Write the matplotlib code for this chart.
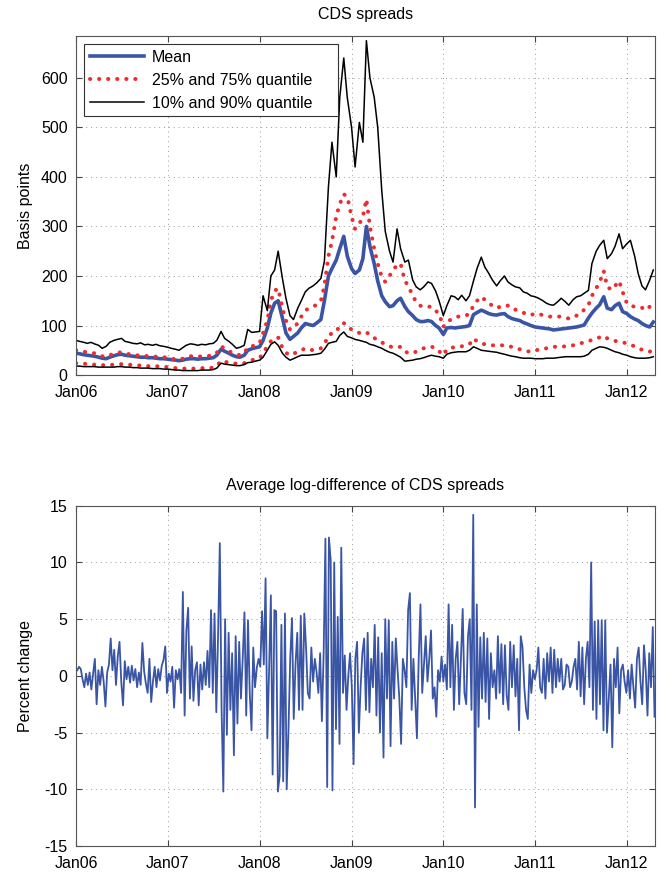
import numpy as np
import matplotlib
matplotlib.use("Agg")
import matplotlib.pyplot as plt
import matplotlib.dates as mdates
import pandas as pd

plt.rcParams['font.family'] = ['Liberation Sans', 'DejaVu Sans']
plt.rcParams['font.size'] = 11.5
plt.rcParams['axes.unicode_minus'] = False

# CDS spread quantiles, read twice a month (1st and 15th), basis points
p90 = ([70, 68, 66, 64, 66, 63, 60, 54, 58, 66, 70, 72, 74, 68, 66, 64, 63, 65, 61, 62, 60, 62, 59, 58] +
       [56, 54, 52, 50, 55, 60, 63, 62, 60, 62, 61, 63, 64, 70, 88, 74, 68, 62, 54, 56, 60, 92, 86, 87] +
       [88, 160, 130, 200, 212, 250, 195, 155, 120, 112, 135, 150, 168, 175, 180, 186, 195, 230, 380, 470, 400, 560, 640, 560] +
       [500, 420, 510, 470, 675, 600, 561, 500, 373, 290, 250, 228, 295, 255, 228, 232, 192, 178, 172, 178, 188, 185, 170, 150] +
       [120, 140, 160, 158, 152, 161, 150, 160, 190, 215, 238, 218, 205, 192, 180, 190, 200, 188, 182, 178, 176, 168, 165, 160] +
       [158, 155, 150, 145, 142, 141, 148, 155, 148, 141, 152, 158, 160, 165, 171, 225, 250, 262, 272, 235, 245, 260, 285, 255] +
       [265, 272, 240, 205, 180, 172, 192, 212])
p75 = ([50, 49, 47, 46, 45, 44, 42, 38, 37, 40, 43, 45, 46, 44, 42, 41, 40, 39, 39, 38, 38, 37, 36, 36] +
       [35, 33, 32, 31, 33, 36, 38, 38, 37, 38, 38, 39, 40, 45, 58, 54, 48, 45, 42, 40, 44, 56, 58, 60] +
       [64, 85, 110, 150, 170, 175, 135, 110, 92, 95, 105, 118, 130, 135, 138, 142, 150, 180, 240, 270, 320, 345, 365, 360] +
       [320, 295, 305, 320, 355, 300, 255, 225, 198, 188, 200, 212, 222, 225, 190, 180, 160, 148, 140, 138, 138, 138, 130, 124] +
       [97, 108, 112, 116, 118, 118, 120, 124, 140, 150, 158, 152, 145, 140, 135, 138, 141, 140, 138, 132, 128, 126, 122, 121] +
       [124, 123, 121, 120, 118, 118, 118, 118, 116, 114, 116, 120, 124, 132, 141, 160, 175, 188, 210, 178, 172, 180, 190, 168] +
       [145, 140, 138, 138, 136, 131, 138, 150])
mean = ([44, 43, 41, 40, 39, 38, 36, 34, 33, 36, 39, 41, 42, 40, 39, 38, 37, 36, 36, 35, 35, 34, 33, 33] +
        [32, 31, 30, 29, 30, 32, 33, 33, 32, 33, 33, 34, 35, 40, 52, 48, 44, 40, 37, 36, 40, 50, 53, 55] +
        [57, 70, 95, 125, 145, 150, 115, 85, 72, 78, 85, 95, 104, 102, 100, 105, 112, 150, 200, 215, 232, 255, 280, 240] +
        [215, 205, 212, 235, 300, 260, 225, 190, 160, 148, 138, 140, 150, 155, 138, 128, 120, 112, 108, 108, 110, 108, 100, 95] +
        [82, 95, 96, 95, 96, 97, 98, 100, 122, 126, 131, 128, 124, 122, 121, 123, 124, 118, 114, 112, 110, 106, 103, 100] +
        [97, 96, 95, 94, 93, 91, 92, 93, 94, 95, 96, 97, 99, 101, 115, 125, 135, 142, 158, 135, 132, 140, 145, 128] +
        [124, 118, 113, 110, 104, 100, 97, 107])
p25 = ([24, 23, 23, 22, 22, 21, 21, 20, 20, 20, 21, 22, 22, 21, 21, 20, 20, 19, 19, 18, 18, 18, 17, 17] +
       [16, 15, 14, 14, 13, 13, 13, 13, 13, 14, 14, 14, 15, 18, 29, 27, 25, 24, 23, 22, 24, 28, 30, 32] +
       [34, 45, 58, 68, 74, 76, 55, 45, 40, 43, 47, 50, 54, 52, 50, 52, 54, 62, 80, 84, 87, 100, 105, 97] +
       [92, 88, 85, 86, 87, 80, 75, 70, 66, 62, 58, 56, 56, 57, 48, 44, 45, 47, 50, 54, 57, 57, 55, 48] +
       [40, 52, 55, 56, 57, 58, 60, 62, 74, 68, 64, 62, 61, 60, 60, 60, 60, 58, 57, 55, 52, 50, 48, 47] +
       [50, 51, 53, 54, 55, 57, 57, 57, 58, 59, 60, 62, 64, 66, 68, 71, 74, 76, 79, 74, 71, 69, 67, 66] +
       [64, 61, 58, 55, 51, 49, 47, 53])
p10 = ([18, 18, 17, 17, 17, 17, 16, 16, 16, 16, 16, 17, 17, 16, 16, 15, 15, 14, 14, 14, 13, 13, 13, 12] +
       [12, 11, 10, 10, 9, 9, 9, 9, 9, 10, 10, 10, 11, 14, 24, 22, 21, 20, 19, 19, 21, 25, 26, 28] +
       [30, 36, 50, 62, 67, 60, 44, 36, 30, 33, 37, 40, 40, 40, 41, 42, 44, 52, 64, 66, 68, 80, 87, 78] +
       [75, 72, 70, 68, 66, 62, 60, 57, 54, 50, 46, 44, 40, 36, 28, 29, 30, 32, 33, 35, 38, 40, 38, 37] +
       [34, 42, 45, 46, 47, 47, 47, 50, 57, 54, 50, 49, 48, 47, 46, 44, 42, 40, 38, 37, 35, 34, 34, 34] +
       [33, 33, 33, 34, 34, 34, 35, 36, 37, 37, 37, 37, 37, 38, 42, 50, 54, 57, 56, 54, 50, 47, 45, 42] +
       [40, 37, 35, 34, 34, 34, 35, 37])

# average log-difference, one value per week (Fridays), percent
logdiff = ([0.5, 0.8, 0.6, -0.3, -1.0, 0.2, -0.8, 0.3, -1.2, 0.2, 1.5, -2.5, 0.5, -0.8, 0.8, -0.5, -2.7, 0.3,
            1.0, 3.3, 0.5, 2.3, -0.8, 1.7, 3.0, -0.5, -2.6, 1.3, -0.3, 0.8, -0.6, 0.9, -0.4, 0.6, -1.0, 0.3,
            -0.8, 2.9, 0.4, -0.7, -1.5, 1.5, -2.3, -0.5, 0.8, -1.0, 0.6, -0.4, 0.9, 1.4, 2.6, -1.5] +
           [0.2, -0.5, 0.8, -2.8, 0.5, -0.3, 0.6, -1.5, 7.4, -3.5, 4.0, 6.0, -2.0, 2.6, -2.2, 0.5, 1.2, -2.6,
            1.0, -1.2, 1.2, -0.8, 2.2, -1.0, 5.8, -1.5, 5.5, -3.2, 3.5, 11.7, -3.0, -10.2, 5.0, -5.2, 3.8, -3.0,
            2.0, -7.0, 3.5, -4.2, 3.0, -2.0, 1.5, 5.6, -3.5, 4.9, -1.5, -4.8, 2.5, -1.0, 0.7, 1.5] +
           [0.8, 5.7, 1.0, 8.6, -5.5, 0.5, 7.1, -8.7, 5.8, 5.7, -10.2, -8.8, 4.5, -9.3, 5.5, -10.0, -4.8, 1.5,
            5.1, -3.8, 1.0, 3.8, -3.0, 5.3, -3.0, 5.5, 2.5, -1.5, -2.0, 2.5, -0.5, 1.5, 0.3, -1.5, 2.0, -4.0,
            2.0, 12.1, -9.8, 12.2, 10.2, -10.1, 10.0, -4.7, 5.2, -6.0, 11.3, -1.5, 1.8, -3.0, 0.0, 2.0] +
           [-1.0, -7.8, 1.5, 3.0, -5.0, -1.0, 2.0, 3.3, -3.0, 3.8, -3.2, 1.5, -1.0, 4.5, -3.5, 3.4, -5.0, 2.0,
            -7.2, 5.0, -2.0, 4.9, -6.2, 3.0, -2.0, 3.3, 0.5, -2.0, -6.0, 1.5, 0.5, -1.0, 5.8, 7.3, -3.0, 1.5,
            -2.0, -5.5, 1.5, 6.3, -1.5, 1.0, 3.5, -0.5, 1.5, 4.0, -2.0, -1.0, -3.6, 0.5, -0.5, 1.7] +
           [-0.5, 1.0, -1.2, 6.3, -1.0, 4.5, -3.0, 1.5, 3.0, -2.5, 1.5, 5.9, -1.5, -2.5, 3.5, 5.0, -3.0, 14.2,
            -11.6, 6.3, -4.5, 3.4, -2.0, 3.8, -2.3, 3.3, -3.8, 2.0, -1.0, 0.5, -2.0, 3.5, -1.5, 2.8, -2.5, 2.7,
            -1.7, -3.0, 3.0, -1.0, 2.7, -1.8, 1.5, -4.8, 3.5, 2.5, -1.0, -3.0, -3.8, 1.0, -1.5, 0.5, -0.3] +
           [0.5, 2.5, -1.0, -1.5, 1.5, -2.0, 2.0, -0.5, 2.5, -1.5, 2.3, -1.0, 1.5, -0.5, 1.5, -1.2, -0.8, 1.0,
            0.8, -1.0, -0.5, 0.8, 1.5, -1.2, 3.0, -1.8, 2.5, -2.5, 1.5, 3.0, -1.0, 10.0, -3.0, 4.8, -3.8, 4.9,
            -2.5, 4.9, -4.8, 4.9, -5.0, -2.0, 1.0, -6.3, 1.5, -1.0, 2.5, -3.3, 0.5, 1.0, -0.5, -1.5] +
           [0.5, -2.0, 1.0, -1.0, -2.8, 1.5, 2.5, -0.5, -2.5, 2.7, 0.5, -3.5, 2.0, -1.0, 4.3, -3.6])

dates_top = pd.date_range('2006-01-01', periods=len(mean), freq='SMS')
dates_bot = pd.date_range('2006-01-06', periods=len(logdiff), freq='W-FRI')

blue = '#3a55a5'
red = '#ee2b2f'

fig = plt.figure(figsize=(6.65, 8.73), dpi=100)
ax1 = fig.add_axes([0.1143, 0.5704, 0.8707, 0.3887])
ax2 = fig.add_axes([0.1143, 0.0309, 0.8707, 0.3898])

#graph 1
ax1.plot(dates_top, mean, color=blue, lw=2.6, label='Mean')
l75, = ax1.plot(dates_top, p75, color=red, lw=2.9, label='25% and 75% quantile')
l25, = ax1.plot(dates_top, p25, color=red, lw=2.9)
for ln in (l75, l25):
    ln.set_dashes([0.05, 2.2])
    ln.set_dash_capstyle('round')
ax1.plot(dates_top, p90, color='black', lw=1.1, label='10% and 90% quantile')
ax1.plot(dates_top, p10, color='black', lw=1.1)
ax1.set_ylim(0, 685)
ax1.set_yticks([0, 100, 200, 300, 400, 500, 600])
ax1.set_ylabel('Basis points')
ax1.set_title('CDS spreads', fontsize=11.5, pad=12)
# legend box stretched to the same width as the original one
leg = ax1.legend(loc='upper left', bbox_to_anchor=(0.0138, 0.7645, 0.4387, 0.211), mode='expand',
                 borderaxespad=0, fancybox=False, framealpha=1, edgecolor='#333333', fontsize=11.5,
                 handlelength=3.4, handletextpad=0.5, labelspacing=0.5, borderpad=0.35)
leg.get_frame().set_linewidth(0.8)

#graph 2
ax2.plot(dates_bot, logdiff, color=blue, lw=1.3)
ax2.set_ylim(-15, 15)
ax2.set_yticks([-15, -10, -5, 0, 5, 10, 15])
ax2.set_ylabel('Percent change')
ax2.set_title('Average log-difference of CDS spreads', fontsize=11.5, pad=11)

for ax in (ax1, ax2):
    ax.set_xlim(pd.Timestamp('2006-01-01'), pd.Timestamp('2012-04-22'))
    ax.xaxis.set_major_locator(mdates.YearLocator())
    ax.xaxis.set_major_formatter(mdates.DateFormatter('%b%y'))
    ax.grid(True, linestyle=(0, (1, 4)), color='#999999', lw=0.7)
    ax.tick_params(direction='in', top=True, right=True, length=4, width=0.8,
                   color='#444444', labelsize=11.5)
    ax.tick_params(axis='x', pad=7)
    ax.tick_params(axis='y', pad=6)
    ax.yaxis.set_label_coords(-0.074, 0.5)
    for s in ax.spines.values():
        s.set_color('#555555')
        s.set_linewidth(0.8)

fig.savefig('out.png', dpi=100)
